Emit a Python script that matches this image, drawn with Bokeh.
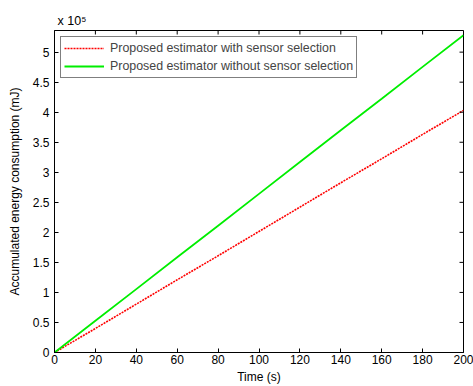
import math
from bokeh.plotting import figure
from bokeh.models import (Range1d, FixedTicker, CustomJSTickFormatter,
                          Legend, LegendItem, Title)
from bokeh.embed import file_html
from bokeh.resources import INLINE

# Data
time_s = [0, 20, 40, 60, 80, 100, 120, 140, 160, 180, 200]
energy_with_selection = [0, 40000, 80500, 121000, 161000, 201500, 242000, 282500, 322500, 363000, 403000]
energy_without_selection = [0, 52800, 105500, 158500, 211000, 264000, 317000, 370000, 422500, 475500, 528000]
x_ticks = [0, 20, 40, 60, 80, 100, 120, 140, 160, 180, 200]
y_ticks = [0, 50000, 100000, 150000, 200000, 250000, 300000, 350000, 400000, 450000, 500000]
series_labels = ["Proposed estimator with sensor selection",
                 "Proposed estimator without sensor selection"]
x_max = 200
y_max = 536000

FONT = "Liberation Sans"
FS = "12px"

p = figure(width=473, height=386,
           min_border_left=54, min_border_top=30, min_border_bottom=34, min_border_right=10,
           x_range=Range1d(0, x_max), y_range=Range1d(0, y_max),
           output_backend="svg", toolbar_location=None)
p.xgrid.visible = False
p.ygrid.visible = False
p.outline_line_color = "black"
p.outline_line_width = 1
p.background_fill_color = "white"
p.border_fill_color = "white"

p.title = Title(text="x 10\u2075", text_font=FONT, text_font_size="12.5px",
                text_font_style="normal", text_color="black", align="left",
                offset=3, standoff=6)

r1 = p.line(time_s, energy_with_selection, line_color="#ff0000", line_width=1.6, line_dash="2 1")
r2 = p.line(time_s, energy_without_selection, line_color="#00ee00", line_width=1.8)

# mirrored tick marks on top and right edges (MATLAB box style)
p.scatter(x=x_ticks, y=[y_max] * len(x_ticks), marker="dash", angle=math.pi / 2,
          size=8, line_color="black", line_width=1)
p.scatter(x=[x_max] * len(y_ticks), y=y_ticks, marker="dash",
          size=8, line_color="black", line_width=1)

def style_axis(ax):
    ax.major_tick_in = 4
    ax.major_tick_out = 0
    ax.minor_tick_in = 0
    ax.minor_tick_out = 0
    ax.axis_line_color = "black"
    ax.major_tick_line_color = "black"
    ax.major_label_text_font = FONT
    ax.major_label_text_font_size = FS
    ax.major_label_text_color = "black"
    ax.axis_label_text_font = FONT
    ax.axis_label_text_font_size = FS
    ax.axis_label_text_font_style = "normal"
    ax.axis_label_text_color = "black"

xa = p.xaxis[0]
xa.ticker = FixedTicker(ticks=x_ticks)
xa.axis_label = "Time (s)"
style_axis(xa)
xa.major_label_standoff = 2
xa.axis_label_standoff = 3

ya = p.yaxis[0]
ya.ticker = FixedTicker(ticks=y_ticks)
ya.formatter = CustomJSTickFormatter(code="return (tick/1e5).toString();")
ya.axis_label = "Accumulated energy consumption (mJ)"
style_axis(ya)
ya.major_label_standoff = 5
ya.axis_label_standoff = 8

legend = Legend(items=[LegendItem(label=series_labels[0], renderers=[r1]),
                       LegendItem(label=series_labels[1], renderers=[r2])],
                location="top_left", margin=6, padding=3, spacing=2,
                glyph_width=40, glyph_height=16, label_standoff=6,
                label_text_font=FONT, label_text_font_size="12.4px",
                label_height=16,
                border_line_color="black", border_line_width=1,
                background_fill_color="white", background_fill_alpha=1)
p.add_layout(legend, "center")

open("out.html", "w").write(file_html(p, INLINE))
